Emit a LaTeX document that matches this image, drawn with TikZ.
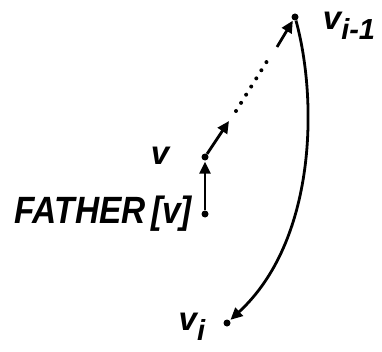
\documentclass[tikz,border=0pt]{standalone}
\usepackage{fontspec}
\setmainfont{Liberation Sans}
\usetikzlibrary{arrows.meta,positioning}
\newcommand\lowidx[1]{\raisebox{-0.3em}{\fontsize{29}{31}\selectfont #1}}
\tikzset{
  vdot/.style={circle,fill=black,inner sep=0pt,minimum size=7pt},
  vlabel/.style={font=\fontsize{33}{35}\selectfont\bfseries\itshape,inner sep=0pt},
  biglabel/.style={font=\fontsize{38}{40}\selectfont\bfseries\itshape,inner sep=0pt},
  arr/.style={-{Triangle[length=12pt,width=11pt]},line width=2.8pt},
  dotline/.style={line width=4pt,line cap=round,dash pattern=on 0pt off 9.6pt},
}

\begin{document}
\begin{tikzpicture}[x=1pt,y=1pt]
  \useasboundingbox (0,0) rectangle (382,351);

  % vertices
  \node[vdot] (vprev) at (295,334) {};
  \node[vdot] (v) at (205,194) {};
  \node[vdot] (fa) at (205,137) {};
  \node[vdot] (vi) at (227,28) {};
  \coordinate (a1) at (229,230);
  \coordinate (d1) at (236,240);
  \coordinate (d2) at (269,293);
  \coordinate (s1) at (277,304);

  % labels
  \node[vlabel,right=24pt of vprev,yshift=-9pt] (lprev) {v\lowidx{i-1}};
  \node[vlabel,left=32pt of v,yshift=1pt] (lv) {v};
  \node[biglabel,left=9pt of fa] (lfa) {\scalebox{0.88}[1]{FATHER\,[v]}};
  \node[vlabel,left=18pt of vi,yshift=-4pt] (lvi) {v\lowidx{i}};

  % path up the tree
  \draw[arr,shorten >=1pt] (fa) -- (v);
  \draw[arr] (v) -- (a1);
  \draw[dotline] (d1) -- (d2);
  \draw[arr,shorten >=0.5pt] (s1) -- (vprev);
  \draw[arr,shorten >=1pt] (vprev) .. controls (318,250) and (316,110) .. (vi);
\end{tikzpicture}
\end{document}
